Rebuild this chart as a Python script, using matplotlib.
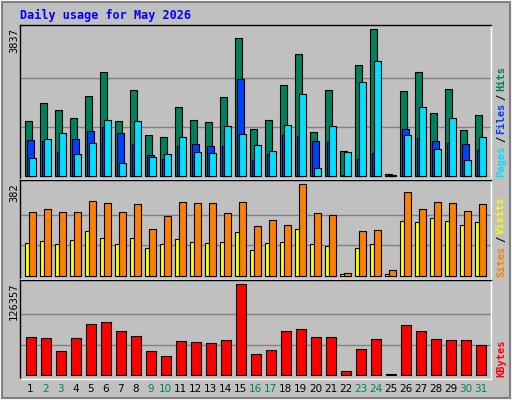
import numpy as np
import matplotlib.pyplot as plt
from matplotlib.patches import Rectangle

days = list(range(1, 32))
weekend = [2, 3, 9, 10, 16, 17, 23, 24, 30, 31]
hits = [1436, 1906, 1723, 1514, 2088, 2715, 1436, 2245, 1070, 1018, 1801, 1462, 1410, 2062, 3602, 1227,
        1462, 2375, 3185, 1149, 2245, 653, 2897, 3837, 61, 2219, 2715, 1644, 2271, 1201, 1592]
files = [940, 914, 626, 966, 1175, 1279, 1122, 835, 548, 444, 783, 835, 783, 783, 2532, 418,
         574, 1070, 1044, 914, 887, 26, 444, 600, 35, 1227, 992, 914, 861, 835, 679]
pages = [470, 966, 1122, 574, 861, 1462, 339, 1436, 496, 574, 1018, 626, 600, 1305, 1096, 809,
         653, 1331, 2140, 209, 1305, 626, 2454, 3002, 20, 1070, 1801, 705, 1514, 418, 1018]
sites = [137, 145, 133, 149, 187, 158, 133, 158, 116, 133, 154, 141, 137, 141, 183, 108,
         137, 141, 195, 133, 125, 8, 116, 133, 8, 228, 224, 241, 228, 212, 224]
visits = [266, 278, 266, 266, 311, 303, 266, 299, 195, 249, 307, 303, 303, 262, 307, 208,
          233, 212, 382, 262, 253, 12, 187, 191, 25, 349, 278, 307, 303, 270, 299]
kbytes = [53040, 51650, 33670, 51650, 71020, 73790, 61340, 54420, 33670, 26750, 47500, 46120,
          44730, 48890, 126357, 29520, 35050, 61340, 64100, 53040, 53040, 6000, 36430, 50270,
          1400, 69640, 61340, 50270, 48890, 48890, 41970]

BG = '#C0C0C0'
W, H = 512, 400
fig = plt.figure(figsize=(5.12, 4.0), dpi=100, facecolor=BG)
mono = 'DejaVu Sans Mono'

# outer bevel
fig.patches.append(Rectangle((0, 0), 1, 1, transform=fig.transFigure, fill=False, ec='white', lw=2))
fig.patches.append(Rectangle((2/W, 2/H), 1 - 4/W, 1 - 4/H, transform=fig.transFigure, fill=False, ec='#808080', lw=1.5))

fig.text(20/W, 1 - 15/H, 'Daily usage for May 2026', color='#0000FF', fontsize=8.5,
         fontweight='bold', family=mono, va='center')


def panel(top, bottom, vmax, base_px, top_px):
    ax = fig.add_axes([20/W, 1 - bottom/H, 471/W, (bottom - top)/H])
    ax.set_facecolor(BG)
    h = bottom - top
    span = h - base_px - top_px
    ax.set_ylim(-base_px / span * vmax, vmax * (1 + top_px / span))
    ax.set_xlim(0, 471)
    ax.set_xticks([]); ax.set_yticks([])
    for s in ax.spines.values():
        s.set_color('black'); s.set_linewidth(1)
    ax.spines['right'].set_color('white'); ax.spines['bottom'].set_color('white')
    for f in (1/3, 2/3):
        ax.axhline(vmax * f * 1.0, color='#808080', lw=1, zorder=0)
    fig.text(14/W, 1 - (top + 3)/H, str(vmax), rotation=90, fontsize=7.5, family=mono,
             va='top', ha='center')
    return ax


def rlabel(top, bottom, parts):
    y = 1 - (bottom - 2)/H
    for txt, col in parts:
        t = fig.text(501/W, y, txt, rotation=90, color=col, fontsize=7.5, family=mono,
                     fontweight='bold', va='bottom', ha='center')
        y += (len(txt) * 6.5 + 2) / H


x0 = np.array([5 + 15*(d - 1) for d in days], dtype=float)
kw = dict(edgecolor='black', linewidth=0.8, align='edge')

ax1 = panel(25, 179, 3837, 3, 4)
ax1.bar(x0, hits, width=7, color='#00805C', **kw)
ax1.bar(x0 + 2, files, width=7, color='#0040FF', **kw)
ax1.bar(x0 + 4, pages, width=7, color='#00E0FF', **kw)
rlabel(25, 179, [('Pages', '#00E0FF'), ('/', 'black'), ('Files', '#0040FF'), ('/', 'black'), ('Hits', '#00805C')])

ax2 = panel(180, 279, 382, 3, 4)
ax2.bar(x0, sites, width=4, color='#FFFF00', **kw)
ax2.bar(x0 + 4, visits, width=7, color='#FF8000', **kw)
rlabel(180, 279, [('Sites', '#FF8000'), ('/', 'black'), ('Visits', '#FFFF00')])

ax3 = panel(280, 379, 126357, 4, 4)
ax3.bar(x0 + 1, kbytes, width=10, color='#FF0000', **kw)
rlabel(280, 379, [('KBytes', '#FF0000')])

for d, x in zip(days, x0):
    col = '#00805C' if d in weekend else 'black'
    fig.text((20 + x + 5.5)/W, 1 - 389/H, str(d), color=col, fontsize=7.5, ha='center', va='center')

fig.savefig('out.png', dpi=100, facecolor=BG)
